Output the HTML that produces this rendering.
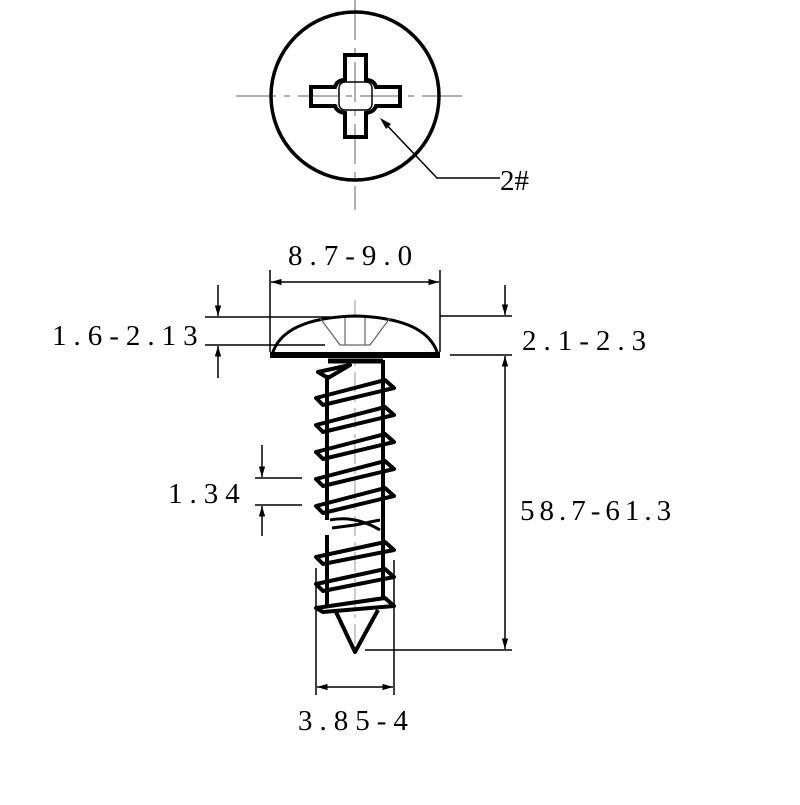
<!DOCTYPE html>
<html><head><style>body{margin:0;background:#fff}</style></head><body>
<svg width="800" height="800" viewBox="0 0 800 800" xmlns="http://www.w3.org/2000/svg" font-family="Liberation Serif, serif" font-size="29">
<defs>
<marker id="a" viewBox="0 0 10 10" refX="10" refY="5" markerWidth="7" markerHeight="7" orient="auto-start-reverse"><path d="M0,2 L10,5 L0,8 z" fill="#000"/></marker>
</defs>
<g stroke="#999" stroke-width="1.5" stroke-dasharray="40,8,6,8">
<line x1="236" y1="96" x2="470" y2="96"/>
<line x1="355" y1="0" x2="355" y2="210"/>
</g>
<circle cx="355" cy="96" r="84" fill="none" stroke="#000" stroke-width="3.5"/>
<path d="M345,55 H366 V80 Q374,80 376,87 H400 V106 H376 Q374,112 366,113 V137 H345 V113 Q337,112 335,106 H311 V87 H335 Q337,80 345,80 Z" fill="none" stroke="#000" stroke-width="4"/>
<rect x="339" y="82" width="33" height="28" rx="6" fill="none" stroke="#000" stroke-width="1.5"/>
<polyline points="382,120 437,178 500,178" fill="none" stroke="#000" stroke-width="1.5"/>
<path d="M380,118 L391,124 L386,129 Z" fill="#000"/>
<text x="500" y="190">2#</text>
<line x1="355" y1="300" x2="355" y2="660" stroke="#aaa" stroke-width="1.2" stroke-dasharray="20,6,4,6"/>
<path d="M272,355 Q282,318 355,316 Q428,318 438,355 Z" fill="#fff" stroke="#000" stroke-width="3"/>
<line x1="270" y1="355" x2="440" y2="355" stroke="#000" stroke-width="6"/>
<path d="M320,318 L340,345 H370 L390,318 M345,318 V345 M365,318 V345" fill="none" stroke="#666" stroke-width="1.2"/>
<g stroke="#000" stroke-width="4" fill="none" stroke-linejoin="round">
<line x1="328" y1="361" x2="383" y2="361" stroke-width="5"/>
<line x1="383" y1="360" x2="383" y2="600"/>
<line x1="327" y1="375" x2="327" y2="520"/>
<line x1="327" y1="535" x2="327" y2="608"/>
<path d="M318,372 L350,365 L328,378 Z"/>
<path d="M316,398 L385,380 L394,388 L323,405 Z"/>
<path d="M316,425 L385,407 L394,415 L323,432 Z"/>
<path d="M316,452 L385,434 L394,442 L323,459 Z"/>
<path d="M316,479 L385,461 L394,469 L323,486 Z"/>
<path d="M316,506 L385,488 L394,496 L323,513 Z"/>
<path d="M330,520 Q355,515 380,530 M332,528 L355,525 L380,520" stroke-width="3"/>
<path d="M316,557 L385,542 L394,550 L323,564 Z"/>
<path d="M316,584 L385,569 L394,577 L323,591 Z"/>
<path d="M316,608 L385,598 L394,606 L323,612 Z"/>
<path d="M336,612 L355,652 L378,610"/>
</g>
<g stroke="#000" stroke-width="1.5" fill="none">
<line x1="270" y1="270" x2="270" y2="352"/>
<line x1="440" y1="270" x2="440" y2="352"/>
<line x1="271" y1="282" x2="439" y2="282" marker-start="url(#a)" marker-end="url(#a)"/>
<line x1="205" y1="317" x2="330" y2="317"/>
<line x1="205" y1="345" x2="325" y2="345"/>
<line x1="218" y1="285" x2="218" y2="316" marker-end="url(#a)"/>
<line x1="218" y1="378" x2="218" y2="346" marker-end="url(#a)"/>
<line x1="440" y1="316" x2="512" y2="316"/>
<line x1="450" y1="355" x2="512" y2="355"/>
<line x1="365" y1="650" x2="512" y2="650"/>
<line x1="505" y1="285" x2="505" y2="315" marker-end="url(#a)"/>
<line x1="505" y1="356" x2="505" y2="649" marker-start="url(#a)" marker-end="url(#a)"/>
<line x1="255" y1="478" x2="302" y2="478"/>
<line x1="255" y1="505" x2="302" y2="505"/>
<line x1="262" y1="445" x2="262" y2="477" marker-end="url(#a)"/>
<line x1="262" y1="536" x2="262" y2="506" marker-end="url(#a)"/>
<line x1="316" y1="568" x2="316" y2="695"/>
<line x1="394" y1="560" x2="394" y2="695"/>
<line x1="317" y1="687" x2="393" y2="687" marker-start="url(#a)" marker-end="url(#a)"/>
</g>
<g letter-spacing="7">
<text x="288" y="265">8.7-9.0</text>
<text x="52" y="345">1.6-2.13</text>
<text x="522" y="350">2.1-2.3</text>
<text x="168" y="503">1.34</text>
<text x="520" y="520" letter-spacing="5">58.7-61.3</text>
<text x="298" y="730">3.85-4</text>
</g>
</svg>
</body></html>
